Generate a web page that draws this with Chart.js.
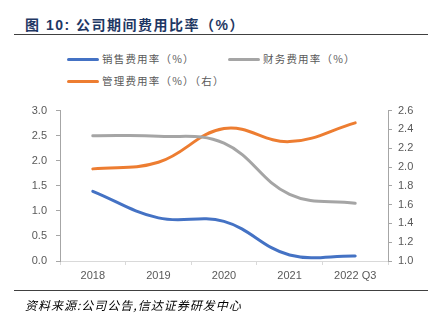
<!DOCTYPE html>
<html><head><meta charset="utf-8">
<script src="https://cdn.jsdelivr.net/npm/chart.js@4/dist/chart.umd.min.js"></script>
<style>
html,body{margin:0;padding:0;background:#fff;width:445px;height:323px;overflow:hidden;position:relative;font-family:"Liberation Sans","Noto Sans CJK SC",sans-serif;}
#title{position:absolute;left:25px;top:16px;font-size:14px;font-weight:bold;color:#1f3864;letter-spacing:1.5px;font-family:"Liberation Sans","Noto Sans CJK SC",sans-serif;white-space:nowrap;line-height:18px;}
.rule{position:absolute;left:14px;width:414px;height:0;border-top:1.5px solid #404040;}
#legend{position:absolute;left:0;top:0;}
.li{position:absolute;font-size:10.5px;letter-spacing:1.2px;color:#595959;white-space:nowrap;font-family:"Noto Sans CJK SC",sans-serif;line-height:14px;}
.sw{position:absolute;width:32px;height:3px;border-radius:2px;}
#src{position:absolute;left:25px;top:297px;font-size:12px;letter-spacing:1px;font-style:italic;color:#000;font-family:"Noto Sans CJK SC",sans-serif;white-space:nowrap;line-height:16px;}
#c{position:absolute;left:0;top:95px;}
</style></head>
<body>
<div id="title">图 10: 公司期间费用比率（%）</div>
<div class="rule" style="top:34px"></div>
<div id="legend"></div>
<canvas id="c" width="445" height="196" style="width:445px;height:196px"></canvas>
<div class="rule" style="top:290px"></div>
<div id="src">资料来源:公司公告,信达证券研发中心</div>
<script>
const categories = ["2018", "2019", "2020", "2021", "2022 Q3"];
const sellingRate = [1.39, 0.86, 0.79, 0.12, 0.10];
const financeRate = [2.50, 2.49, 2.35, 1.33, 1.15];
const adminRate = [1.98, 2.05, 2.41, 2.27, 2.47];
const leftTicks = [0, 3, 0.5];
const rightTicks = [1.0, 2.6, 0.2];

const datasets = [
  {label: "销售费用率（%）", data: sellingRate, borderColor: "#4472C4", yAxisID: "y"},
  {label: "财务费用率（%）", data: financeRate, borderColor: "#A5A5A5", yAxisID: "y"},
  {label: "管理费用率（%）（右）", data: adminRate, borderColor: "#ED7D31", yAxisID: "y1"}
].map(d => Object.assign(d, {borderWidth: 3, pointRadius: 0, tension: 0.4, fill: false, borderCapStyle: "round"}));

// legend
const legPos = [[67, 59], [228, 59], [67, 81]];
const leg = document.getElementById("legend");
datasets.forEach((d, i) => {
  const [x, y] = legPos[i];
  const sw = document.createElement("div");
  sw.className = "sw"; sw.style.left = x + "px"; sw.style.top = (y - 1.5) + "px"; sw.style.background = d.borderColor;
  const t = document.createElement("div");
  t.className = "li"; t.style.left = (x + 35) + "px"; t.style.top = (y - 7) + "px"; t.textContent = d.label;
  leg.appendChild(sw); leg.appendChild(t);
});

const tickFont = {family: "Liberation Sans", size: 11};
new Chart(document.getElementById("c"), {
  type: "line",
  data: {labels: categories, datasets},
  options: {
    responsive: false, animation: false,
    layout: {padding: {top: 13, left: 0, right: 0, bottom: 0}},
    plugins: {legend: {display: false}, tooltip: {enabled: false}},
    scales: {
      x: {
        offset: true,
        grid: {display: true, offset: true, drawOnChartArea: false, tickLength: 4, color: "#d9d9d9"},
        border: {display: true, color: "#d9d9d9", width: 1},
        ticks: {font: tickFont, color: "#595959", padding: 4, maxRotation: 0},
        afterFit: s => { s.height = 30; }
      },
      y: {
        position: "left", min: leftTicks[0], max: leftTicks[1],
        grid: {display: true, drawOnChartArea: false, tickLength: 4, color: "#a6a6a6"},
        border: {display: true, color: "#a6a6a6", width: 1},
        ticks: {stepSize: leftTicks[2], font: tickFont, color: "#595959", padding: 9, callback: v => v.toFixed(1)},
        afterFit: s => { s.width = 60; }
      },
      y1: {
        position: "right", min: rightTicks[0], max: rightTicks[1],
        grid: {display: true, drawOnChartArea: false, tickLength: 4, color: "#a6a6a6"},
        border: {display: true, color: "#a6a6a6", width: 1},
        ticks: {stepSize: rightTicks[2], font: tickFont, color: "#595959", padding: 6, callback: v => v.toFixed(1)},
        afterFit: s => { s.width = 57; }
      }
    }
  }
});
</script>
</body></html>
